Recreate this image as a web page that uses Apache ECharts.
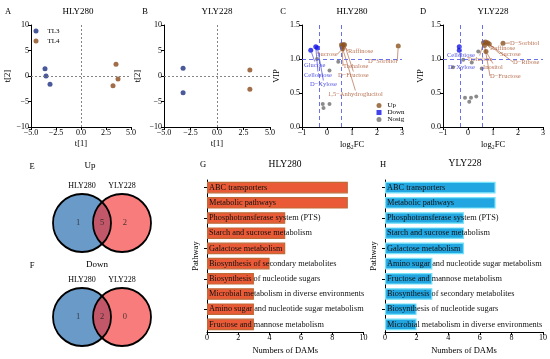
<!DOCTYPE html>
<html><head><meta charset="utf-8">
<script src="https://cdn.jsdelivr.net/npm/echarts@6/dist/echarts.min.js"></script>
<style>html,body{margin:0;padding:0;background:#fff}#c{width:550px;height:359px}</style>
</head><body><div id="c"></div><script>
// ---------------- data ----------------
const pcaGroups = ['TL3', 'TL4'];
const hlyTL3 = [[-3.6, 1.4], [-3.5, 0.0], [-3.1, -1.6]];
const hlyTL4 = [[3.5, 2.3], [3.7, -0.6], [3.2, -1.9]];
const ylyTL3 = [[-3.2, 1.5], [-3.2, -3.3]];
const ylyTL4 = [[3.1, 1.2], [3.1, -2.6]];

const volcGroups = ['Up', 'Down', 'Nosig'];
const hlyUp = [[0.58, 1.21, '1,5−Anhydroglucitol'], [0.65, 1.21, 'Raffinose'], [0.70, 1.21, 'D−Fructose'], [0.60, 1.18, 'Trehalose'], [0.62, 1.15, 'Sucrose'], [2.85, 1.19, 'D−Sorbitol']];
const hlyDown = [[-0.65, 1.13, 'Glucose'], [-0.45, 1.18, 'Cellobiose'], [-0.38, 1.16, 'D−Xylose']];
const hlyNosig = [[-0.40, 1.00], [0.10, 0.83], [0.45, 0.96], [-0.17, 0.34], [0.10, 0.34], [-0.14, 0.28]];
const ylyUp = [[1.40, 1.23, 'D−Sorbitol'], [0.70, 1.25, 'Raffinose'], [0.78, 1.24, 'Sucrose'], [0.85, 1.22, 'D−Ribose'], [0.62, 1.24, 'Trehalose'], [0.72, 1.11, 'Inositol'], [0.66, 1.20, 'D−Fructose']];
const ylyDown = [[-0.35, 1.18, 'Cellobiose'], [-0.35, 1.13, 'D−Xylose']];
const ylyNosig = [[0.41, 1.11], [-0.19, 0.99], [0.15, 0.95], [0.55, 0.86], [-0.60, 0.88], [-0.12, 0.43], [0.05, 0.37], [0.12, 0.43], [0.33, 0.45]];
const fcCuts = [-0.32, 0.585];
const vipCut = 1.0;

const vennSets = ['HLY280', 'YLY228'];
const vennUpCounts = [1, 5, 2];     // HLY only, shared, YLY only
const vennDownCounts = [1, 2, 0];

const pathwaysHLY = ['ABC transporters', 'Metabolic pathways', 'Phosphotransferase system (PTS)', 'Starch and sucrose metabolism', 'Galactose metabolism', 'Biosynthesis of secondary metabolites', 'Biosynthesis of nucleotide sugars', 'Microbial metabolism in diverse environments', 'Amino sugar and nucleotide sugar metabolism', 'Fructose and mannose metabolism'];
const damsHLY = [9, 9, 5, 5, 5, 4, 3, 3, 3, 3];
const pathwaysYLY = ['ABC transporters', 'Metabolic pathways', 'Phosphotransferase system (PTS)', 'Starch and sucrose metabolism', 'Galactose metabolism', 'Amino sugar and nucleotide sugar metabolism', 'Fructose and mannose metabolism', 'Biosynthesis of secondary metabolites', 'Biosynthesis of nucleotide sugars', 'Microbial metabolism in diverse environments'];
const damsYLY = [7, 7, 5, 5, 5, 3, 3, 3, 2, 2];

// ---------------- layout / style ----------------
const FONT = 'Liberation Serif';
const labelPosC = {
  'Sucrose': [317, 54], 'Raffinose': [348, 51], 'D−Sorbitol': [368, 61], 'Trehalose': [343, 66],
  'D−Fructose': [338, 75], '1,5−Anhydroglucitol': [328, 94],
  'Glucose': [304, 65], 'Cellobiose': [304, 75], 'D−Xylose': [310, 84]
};
const labelPosD = {
  'D−Sorbitol': [510, 43], 'Raffinose': [490, 48], 'Sucrose': [500, 54], 'D−Ribose': [513, 62],
  'Trehalose': [467, 59], 'Inositol': [483, 67], 'D−Fructose': [490, 76],
  'Cellobiose': [447, 55], 'D−Xylose': [448, 67]
};
const vennLabelX = [-0.1, 0.5, 1.07];
const VENN_R = 58;
const C_TL3 = '#1c2f80', C_TL4 = '#8a4a1c';
const C_UP = '#8c5220', C_DOWN = '#1414e6', C_NOSIG = '#6e6e6e';
const T_UP = '#a8502a', T_DOWN = '#2626dc';
const minus = v => (v < 0 ? '−' + String(Math.abs(v)) : String(v));

const axisBase = {
  axisLine: { show: true, onZero: false, lineStyle: { color: '#000', width: 1 } },
  axisTick: { show: true, length: 3, lineStyle: { color: '#000' } },
  splitLine: { show: false },
  axisLabel: { color: '#000', fontSize: 8, margin: 2, fontFamily: FONT },
  nameTextStyle: { color: '#000', fontSize: 8.5, fontFamily: FONT }
};
function vAxis(o) { return Object.assign({ type: 'value' }, JSON.parse(JSON.stringify(axisBase)), o); }

const grids = [
  { left: 31, top: 25, width: 100, height: 102 },    // A
  { left: 164, top: 25, width: 106, height: 102 },   // B
  { left: 302, top: 25, width: 100, height: 102 },   // C
  { left: 443, top: 25, width: 100, height: 102 },   // D
  { left: 207, top: 180, width: 156.5, height: 152 },// G
  { left: 385, top: 180, width: 158.3, height: 152 },// H
  { left: 62, top: 195, width: 80, height: 56 },     // E
  { left: 62, top: 289, width: 80, height: 56 }      // F
];

const fmt1 = v => { const s = Math.abs(v).toFixed(1); return v < 0 ? '−' + s : s; };
const pcaX = (g, gap) => vAxis({ gridIndex: g, min: -5, max: 5, interval: 2.5, name: 't[1]', nameLocation: 'middle', nameGap: gap,
  axisLabel: Object.assign({}, axisBase.axisLabel, { formatter: fmt1 }) });
const pcaY = (g, gap) => vAxis({ gridIndex: g, min: -10, max: 10, interval: 5, name: 't[2]', nameLocation: 'middle', nameGap: gap,
  axisLabel: Object.assign({}, axisBase.axisLabel, { formatter: v => minus(v) }) });
const volX = (g) => vAxis({ gridIndex: g, min: -1, max: 3, interval: 1, name: 'log₂FC', nameLocation: 'middle', nameGap: 13,
  axisLabel: Object.assign({}, axisBase.axisLabel, { formatter: v => minus(v) }) });
const volY = (g, gap) => vAxis({ gridIndex: g, min: 0, max: 1.5, interval: 0.5, name: 'VIP', nameLocation: 'middle', nameGap: gap,
  axisLabel: Object.assign({}, axisBase.axisLabel, { formatter: v => v.toFixed(1) }) });
const barX = (g) => vAxis({ gridIndex: g, min: 0, max: 10, interval: 2, name: 'Numbers of DAMs', nameLocation: 'middle', nameGap: 14 });
const barY = (g, cats) => Object.assign({ type: 'category', gridIndex: g, data: cats, inverse: true, name: 'Pathway', nameLocation: 'middle', nameGap: 7 },
  JSON.parse(JSON.stringify(axisBase)), { axisLabel: { show: false }, axisTick: { show: true, length: 3, alignWithLabel: true, lineStyle: { color: '#000' } } });
const vennCatX = (g) => ({ type: 'category', gridIndex: g, position: 'top', data: vennSets, axisLine: { show: false }, axisTick: { show: false },
  axisLabel: { color: '#000', fontSize: 8, fontFamily: FONT, margin: 5 } });
const vennValX = (g) => ({ type: 'value', gridIndex: g, min: -0.5, max: 1.5, show: false });
const vennValY = (g) => ({ type: 'value', gridIndex: g, min: 0, max: 1, show: false });

const xAxes = [pcaX(0, 12), pcaX(1, 12), volX(2), volX(3), barX(4), barX(5), vennCatX(6), vennValX(6), vennCatX(7), vennValX(7)];
const yAxes = [pcaY(0, 15), pcaY(1, 22), volY(2, 21), volY(3, 18), barY(4, pathwaysHLY), barY(5, pathwaysYLY), vennValY(6), vennValY(7)];

function refLines(xs, ys, color, type) {
  return {
    silent: true, symbol: 'none', animation: false, label: { show: false },
    lineStyle: { color: color, type: type, width: 0.9 },
    data: xs.map(v => ({ xAxis: v })).concat(ys.map(v => ({ yAxis: v })))
  };
}
function layoutFrom(table) {
  return function (p) {
    const pos = table[p.text];
    if (!pos) return {};
    return { x: pos[0], y: pos[1], align: 'left', verticalAlign: 'middle' };
  };
}
function volSeries(name, data, xi, color, tcolor, table, size, extra) {
  const s = {
    type: 'scatter', name: name, xAxisIndex: xi, yAxisIndex: xi, data: data, symbolSize: size || 5,
    itemStyle: { color: color }, z: 3
  };
  if (tcolor) {
    s.label = { show: true, formatter: p => p.data[2], fontSize: 6.5, color: tcolor, fontFamily: FONT };
    s.labelLine = { show: true, lineStyle: { color: tcolor, width: 0.6 } };
    s.labelLayout = layoutFrom(table);
  }
  return Object.assign(s, extra || {});
}

const series = [
  { type: 'scatter', name: 'TL3', xAxisIndex: 0, yAxisIndex: 0, data: hlyTL3, symbolSize: 5, itemStyle: { color: C_TL3 },
    markLine: refLines([0], [0], '#777', [2, 2]) },
  { type: 'scatter', name: 'TL4', xAxisIndex: 0, yAxisIndex: 0, data: hlyTL4, symbolSize: 5, itemStyle: { color: C_TL4 } },
  { type: 'scatter', name: 'TL3', xAxisIndex: 1, yAxisIndex: 1, data: ylyTL3, symbolSize: 5, itemStyle: { color: C_TL3 },
    markLine: refLines([0], [0], '#777', [2, 2]) },
  { type: 'scatter', name: 'TL4', xAxisIndex: 1, yAxisIndex: 1, data: ylyTL4, symbolSize: 5, itemStyle: { color: C_TL4 } },

  volSeries('Nosig', hlyNosig, 2, C_NOSIG, null, null, 4, { markLine: refLines(fcCuts, [vipCut], '#5a62e6', [4, 3]) }),
  volSeries('Up', hlyUp, 2, C_UP, T_UP, labelPosC, 5),
  volSeries('Down', hlyDown, 2, C_DOWN, T_DOWN, labelPosC, 5),
  volSeries('Nosig', ylyNosig, 3, C_NOSIG, null, null, 4, { markLine: refLines(fcCuts, [vipCut], '#5a62e6', [4, 3]) }),
  volSeries('Up', ylyUp, 3, C_UP, T_UP, labelPosD, 5),
  volSeries('Down', ylyDown, 3, C_DOWN, T_DOWN, labelPosD, 5),

  { type: 'bar', xAxisIndex: 4, yAxisIndex: 4, data: damsHLY, barWidth: '76%',
    itemStyle: { color: '#ea5a36', borderColor: '#c06a38', borderWidth: 1.2 },
    label: { show: true, position: 'insideLeft', distance: 2, formatter: '{b}', color: '#111', fontSize: 8.3, fontFamily: FONT } },
  { type: 'bar', xAxisIndex: 5, yAxisIndex: 5, data: damsYLY, barWidth: '76%',
    itemStyle: { color: '#22a6e2', borderColor: '#74e2f8', borderWidth: 1.2 },
    label: { show: true, position: 'insideLeft', distance: 2, formatter: '{b}', color: '#111', fontSize: 8.3, fontFamily: FONT } }
];

function vennSeries(xi, yi, counts) {
  const circ = vennSets.map((s, i) => [i, 0.5]);
  return [
    { type: 'scatter', xAxisIndex: xi, yAxisIndex: yi, data: [circ[0]], symbolSize: VENN_R, silent: true,
      itemStyle: { color: '#6a9ac8', opacity: 1 }, z: 2 },
    { type: 'scatter', xAxisIndex: xi, yAxisIndex: yi, data: [circ[1]], symbolSize: VENN_R, silent: true,
      itemStyle: { color: 'rgba(244,47,47,0.63)', opacity: 1 }, z: 3 },
    { type: 'scatter', xAxisIndex: xi, yAxisIndex: yi, data: circ, symbolSize: VENN_R, silent: true,
      itemStyle: { color: 'rgba(0,0,0,0)', borderColor: '#000', borderWidth: 1.8, opacity: 1 }, z: 4 },
    { type: 'scatter', xAxisIndex: xi, yAxisIndex: yi, data: counts.map((v, i) => [vennLabelX[i], 0.5, v]), symbolSize: 0, silent: true, z: 5,
      label: { show: true, position: 'inside', formatter: p => String(p.data[2]), color: '#222', fontSize: 8.5, fontFamily: FONT } }
  ];
}
series.push(...vennSeries(7, 6, vennUpCounts));
series.push(...vennSeries(9, 7, vennDownCounts));

const txt = (x, y, t, size) => ({ type: 'text', x: x, y: y, silent: true,
  style: { text: t, fill: '#000', font: `${size}px "${FONT}"`, textAlign: 'center', textVerticalAlign: 'middle' } });

const option = {
  animation: false,
  textStyle: { fontFamily: FONT },
  grid: grids,
  xAxis: xAxes,
  yAxis: yAxes,
  legend: [
    { data: pcaGroups, orient: 'vertical', left: 33.5, top: 27.5, itemWidth: 5, itemHeight: 5, itemGap: 3, icon: 'circle',
      selectedMode: false, padding: 0, textStyle: { fontSize: 7, color: '#000', fontFamily: FONT, padding: [0, 0, 0, 4] } },
    { data: [{ name: 'Up', icon: 'circle' }, { name: 'Down', icon: 'rect' }, { name: 'Nosig', icon: 'circle' }],
      orient: 'vertical', left: 376.5, top: 102, itemWidth: 5, itemHeight: 5, itemGap: 0,
      selectedMode: false, padding: 0, textStyle: { fontSize: 7, color: '#000', fontFamily: FONT, padding: [0, 0, 0, 1] } }
  ],
  graphic: [
    txt(8, 12, 'A', 8.5), txt(145, 12, 'B', 8.5), txt(283, 12, 'C', 8.5), txt(423, 12, 'D', 8.5),
    txt(32, 167, 'E', 8.5), txt(32, 266, 'F', 8.5), txt(203, 165, 'G', 8.5), txt(383, 165, 'H', 8.5),
    txt(78, 12, 'HLY280', 9), txt(217, 12, 'YLY228', 9), txt(352, 12, 'HLY280', 9), txt(493, 12, 'YLY228', 9),
    txt(90, 166, 'Up', 9), txt(97, 265, 'Down', 9),
    txt(285, 164, 'HLY280', 9.5), txt(465, 163, 'YLY228', 9.5)
  ],
  series: series
};
const chart = echarts.init(document.getElementById('c'), null, { renderer: 'canvas' });
chart.setOption(option);
</script></body></html>
